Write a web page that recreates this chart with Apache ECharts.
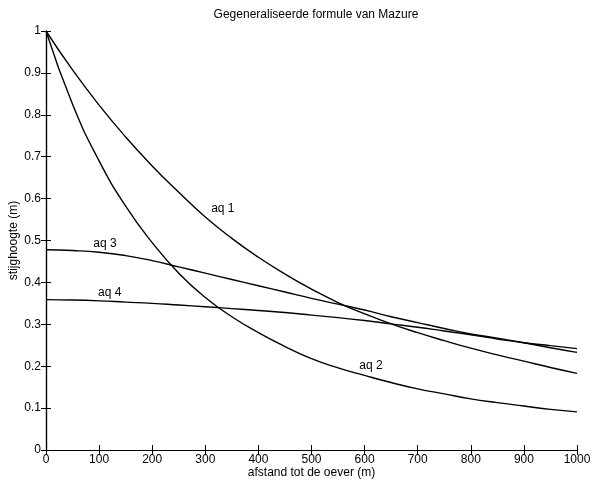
<!DOCTYPE html>
<html>
<head>
<meta charset="utf-8">
<script src="https://cdn.jsdelivr.net/npm/echarts@6/dist/echarts.min.js"></script>
<style>html,body{margin:0;padding:0;background:#fff}#c{width:592px;height:484px}</style>
</head>
<body>
<div id="c"></div>
<script>
var xs = [0,50,100,150,200,250,300,350,400,450,500,550,600,650,700,750,800,850,900,950,1000];
var aq1 = [1.0,0.907,0.823,0.747,0.678,0.615,0.556,0.505,0.46,0.42,0.384,0.352,0.325,0.301,0.28,0.261,0.243,0.227,0.212,0.197,0.183];
var aq2 = [1.0,0.825,0.69,0.582,0.495,0.422,0.364,0.318,0.28,0.247,0.218,0.196,0.178,0.161,0.146,0.134,0.122,0.113,0.105,0.097,0.091];
var aq3 = [0.478,0.476,0.472,0.464,0.452,0.437,0.422,0.407,0.392,0.377,0.362,0.348,0.334,0.318,0.304,0.29,0.277,0.267,0.256,0.244,0.233];
var aq4 = [0.359,0.358,0.356,0.353,0.350,0.346,0.342,0.3375,0.333,0.328,0.322,0.316,0.309,0.301,0.293,0.284,0.275,0.265,0.256,0.249,0.242];
var seriesNames = ['aq 1','aq 2','aq 3','aq 4'];
var labelPos = [[333,0.576],[612,0.202],[111,0.493],[120,0.376]];
var title = 'Gegeneraliseerde formule van Mazure';
var xName = 'afstand tot de oever (m)';
var yName = 'stijghoogte (m)';

var font = 'Liberation Sans, Arial, Helvetica, sans-serif';
var chart = echarts.init(document.getElementById('c'));
function mk(name, ys, lp){
  return {
    type:'line', name:name, data: xs.map(function(x,i){return [x, ys[i]];}),
    smooth:0.5, symbol:'none', lineStyle:{color:'#000', width:1.4},
    markPoint:{symbol:'circle', symbolSize:0, silent:true,
      label:{show:true, formatter:name, color:'#000', fontFamily:font, fontSize:12, position:'inside'},
      data:[{coord:lp}]}
  };
}
var all=[aq1,aq2,aq3,aq4];
var tickStyle = {inside:true, length:5, lineStyle:{color:'#000'}};
var lineSty = {lineStyle:{color:'#000', width:1.2}};
chart.setOption({
  animation:false,
  title:{text:title, left:311, textAlign:'center', top:4, textStyle:{fontFamily:font, fontSize:12, fontWeight:'normal', color:'#000'}},
  grid:{left:46, right:15, top:31, bottom:34, outerBoundsMode:'none', containLabel:false},
  xAxis:[{type:'value', min:0, max:1000, interval:100, name:xName, nameLocation:'middle', nameGap:17, nameMoveOverlap:false,
     nameTextStyle:{fontFamily:font, fontSize:12, color:'#000'},
     axisLine:lineSty, axisTick:tickStyle,
     axisLabel:{fontFamily:font, fontSize:12, color:'#000', margin:4, formatter:function(v){return String(v);}}, splitLine:{show:false}},
   {type:'value', position:'top', min:0, max:1000, interval:100,
     axisLine:lineSty, axisTick:tickStyle, axisLabel:{show:false}, splitLine:{show:false}}],
  yAxis:[{type:'value', min:0, max:1, interval:0.1, name:yName, nameLocation:'middle', nameGap:26, nameMoveOverlap:false,
     nameTextStyle:{fontFamily:font, fontSize:12, color:'#000'},
     axisLine:lineSty, axisTick:tickStyle,
     axisLabel:{fontFamily:font, fontSize:12, color:'#000', margin:5}, splitLine:{show:false}},
   {type:'value', position:'right', min:0, max:1, interval:0.1,
     axisLine:lineSty, axisTick:tickStyle, axisLabel:{show:false}, splitLine:{show:false}}],
  series: seriesNames.map(function(n,i){return mk(n, all[i], labelPos[i]);})
});
</script>
</body>
</html>
